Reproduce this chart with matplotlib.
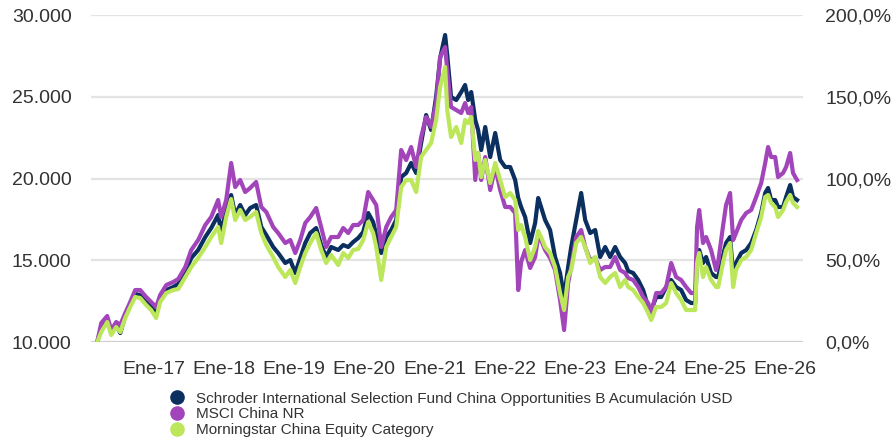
import matplotlib.pyplot as plt
import matplotlib.dates as mdates
from matplotlib.lines import Line2D
from matplotlib.ticker import FixedLocator, FuncFormatter
import pandas as pd

plt.rcParams["font.family"] = ["Liberation Sans", "DejaVu Sans"]

# growth of 10.000
dates = [
    "2016-03-10", "2016-03-31", "2016-05-01", "2016-05-22", "2016-06-17", "2016-07-08",
    "2016-08-03", "2016-08-29", "2016-09-24", "2016-10-20", "2016-11-20", "2016-12-16",
    "2017-01-11", "2017-02-01", "2017-03-05", "2017-04-10", "2017-05-06", "2017-06-12",
    "2017-07-13", "2017-08-18", "2017-09-24", "2017-10-25", "2017-11-30", "2017-12-16",
    "2018-01-11", "2018-02-06", "2018-02-27", "2018-03-25", "2018-04-20", "2018-05-16",
    "2018-06-16", "2018-07-13", "2018-08-08", "2018-09-13", "2018-10-09", "2018-11-15",
    "2018-12-11", "2019-01-06", "2019-02-01", "2019-02-27", "2019-03-25", "2019-04-25",
    "2019-05-21", "2019-06-16", "2019-07-12", "2019-08-18", "2019-09-13", "2019-10-09",
    "2019-11-04", "2019-11-30", "2019-12-26", "2020-01-21", "2020-02-16", "2020-03-03",
    "2020-03-29", "2020-04-24", "2020-05-20", "2020-06-15", "2020-07-11", "2020-08-06",
    "2020-09-01", "2020-09-27", "2020-10-23", "2020-11-18", "2020-12-14", "2021-01-09",
    "2021-01-30", "2021-02-25", "2021-03-08", "2021-03-28", "2021-04-24", "2021-05-20",
    "2021-06-09", "2021-06-25", "2021-07-11", "2021-08-01", "2021-08-16", "2021-09-01",
    "2021-09-22", "2021-10-18", "2021-11-13", "2021-12-09", "2022-01-04", "2022-01-30",
    "2022-02-25", "2022-03-13", "2022-03-28", "2022-04-18", "2022-05-14", "2022-06-09",
    "2022-06-25", "2022-07-10", "2022-07-31", "2022-08-26", "2022-09-21", "2022-10-17",
    "2022-11-07", "2022-11-28", "2022-12-14", "2023-01-09", "2023-02-04", "2023-02-25",
    "2023-03-23", "2023-04-18", "2023-05-14", "2023-06-09", "2023-07-05", "2023-07-31",
    "2023-08-26", "2023-09-21", "2023-10-07", "2023-11-02", "2023-11-28", "2023-12-24",
    "2024-01-19", "2024-02-04", "2024-03-01", "2024-03-27", "2024-04-22", "2024-05-18",
    "2024-06-13", "2024-07-09", "2024-08-04", "2024-08-30", "2024-09-20", "2024-09-30",
    "2024-10-11", "2024-10-31", "2024-11-16", "2024-12-12", "2025-01-07", "2025-01-18",
    "2025-02-13", "2025-02-28", "2025-03-21", "2025-04-06", "2025-04-21", "2025-05-18",
    "2025-06-13", "2025-07-09", "2025-08-04", "2025-08-30", "2025-09-20", "2025-10-05",
    "2025-10-21", "2025-11-11", "2025-11-26", "2025-12-22", "2026-01-07", "2026-01-28",
    "2026-02-12", "2026-03-05",
]

fund = [
    10000, 10856, 11407, 10550, 11040, 10550, 11590, 12263, 12936, 12875, 12446, 12141,
    11713, 12630, 13180, 13364, 13547, 14281, 15137, 15627, 16422, 16972, 17767, 16728,
    18073, 18991, 17767, 18379, 17767, 18195, 18379, 17033, 16544, 15810, 15443, 14832,
    15015, 14220, 15137, 16055, 16666, 16972, 15933, 15199, 15810, 15627, 15933, 15810,
    16116, 16360, 16728, 17890, 17339, 16544, 15443, 16422, 16850, 17462, 20091, 20336,
    20948, 20336, 22171, 23883, 22966, 24984, 27369, 28776, 27553, 24984, 24801, 25290,
    25718, 24801, 25290, 23578, 22966, 21743, 23149, 21315, 22782, 21131, 20703, 20703,
    19908, 18807, 18257, 17645, 16055, 17278, 18807, 18257, 17462, 16850, 15199, 14220,
    12752, 14587, 15810, 17462, 19113, 17462, 16666, 16850, 15199, 15810, 15199, 15810,
    15199, 14832, 14342, 14220, 13792, 13180, 12141, 11957, 12752, 12752, 13364, 13792,
    13364, 13180, 12569, 12385, 12385, 15199, 15627, 14832, 15199, 14220, 13975, 13975,
    15321, 16055, 16422, 14098, 14832, 15443, 15627, 16055, 16850, 17890, 19113, 19419,
    18685, 18685, 18257, 18257, 18868, 19602, 18868, 18685,
]

index = [
    10000, 11162, 11590, 10734, 11223, 11040, 11774, 12446, 13180, 13180, 12752, 12446,
    12141, 12875, 13486, 13670, 13853, 14587, 15627, 16238, 17156, 17645, 18685, 17645,
    18685, 20948, 19480, 19908, 19174, 19419, 19786, 18257, 17951, 17033, 16666, 16055,
    16238, 15443, 16238, 17278, 17645, 18195, 17033, 15810, 16422, 16422, 16972, 16666,
    17156, 17156, 17462, 19174, 18685, 18379, 15810, 17033, 17645, 18073, 21743, 21131,
    21926, 20703, 22538, 23761, 23149, 24617, 27431, 28042, 26636, 24373, 24189, 24006,
    24617, 24006, 24373, 19908, 21559, 19908, 21315, 19296, 20703, 19296, 18257, 18257,
    17890, 13180, 14893, 15627, 14526, 15199, 16422, 16238, 15627, 15137, 14404, 12569,
    10734, 13608, 14587, 16422, 16850, 15810, 15015, 15137, 14404, 14587, 14587, 15199,
    14404, 14220, 13914, 13792, 13364, 12752, 12385, 11774, 12997, 12997, 13364, 14832,
    13975, 13792, 13364, 12997, 12997, 17033, 18073, 16055, 16422, 15627, 14404, 14893,
    17156, 18379, 19113, 16238, 16666, 17462, 17890, 18073, 18868, 19724, 20948, 21926,
    21315, 21315, 20091, 20336, 20703, 21559, 20336, 19908,
]

category = [
    10000, 10612, 11223, 10428, 10917, 10612, 11468, 12141, 12752, 12691, 12263, 11957,
    11468, 12446, 12997, 13180, 13241, 13975, 14587, 15137, 15810, 16422, 17033, 16055,
    17645, 18746, 17462, 18073, 17462, 17645, 17951, 16666, 15933, 15199, 14587, 13975,
    14404, 13608, 14587, 15443, 16055, 16666, 15627, 14832, 15321, 14709, 15443, 15137,
    15627, 15688, 16238, 17339, 16666, 15810, 13792, 15810, 16422, 17033, 19480, 19908,
    19908, 19174, 21315, 21743, 22171, 23578, 25596, 26819, 24189, 22538, 23149, 22171,
    23578, 23394, 23761, 21131, 21559, 20091, 21131, 19724, 20948, 19908, 18868, 19113,
    18685, 16850, 17156, 16422, 15015, 15810, 16789, 16422, 15810, 15443, 14587, 12997,
    11957, 13975, 14404, 16055, 16422, 15810, 14832, 15199, 13975, 13608, 13975, 14220,
    13364, 13792, 13364, 13180, 12752, 12385, 11774, 11346, 12141, 12141, 12385, 13608,
    12997, 12569, 11957, 11957, 11957, 14832, 15443, 13975, 14587, 13792, 13364, 13364,
    14893, 15627, 16055, 13364, 14404, 15015, 15199, 15627, 16666, 17645, 18868, 18991,
    18501, 18257, 17645, 18073, 18562, 18991, 18501, 18257,
]

names = [
    "Schroder International Selection Fund China Opportunities B Acumulación USD",
    "MSCI China NR",
    "Morningstar China Equity Category",
]
colors = ["#0b2f5f", "#a245bb", "#bde75b"]

year_ticks = ["2017-01-01", "2018-01-01", "2019-01-01", "2020-01-01", "2021-01-01",
              "2022-01-01", "2023-01-01", "2024-01-01", "2025-01-01", "2026-01-01"]
year_labels = ["Ene-17", "Ene-18", "Ene-19", "Ene-20", "Ene-21",
               "Ene-22", "Ene-23", "Ene-24", "Ene-25", "Ene-26"]
left_ticks = [10000, 15000, 20000, 25000, 30000]
right_ticks = [0, 50, 100, 150, 200]

t = pd.to_datetime(dates)

fig = plt.figure(figsize=(8.93, 4.44), dpi=100)
ax = fig.add_axes([0.102, 0.2297, 0.797, 0.7365])

for yv in left_ticks:
    ax.axhline(yv, color="#cfcfcf" if yv == 10000 else "#e3e3e3", lw=1.6, zorder=0)

for series, c in zip([fund, index, category], colors):
    ax.plot(t, series, color=c, lw=3.0, solid_joinstyle="round", zorder=2)

ax.set_xlim(pd.Timestamp("2016-02-07"), pd.Timestamp("2026-04-04"))
ax.set_ylim(10000, 30000)
ax.set_xticks(pd.to_datetime(year_ticks))
ax.set_xticklabels(year_labels)
ax.set_yticks(left_ticks)
ax.yaxis.set_major_formatter(FuncFormatter(lambda v, p: f"{int(v):,}".replace(",", ".")))
ax.tick_params(axis="both", length=0, labelsize=14, colors="#333333")
ax.tick_params(axis="x", pad=14)
ax.tick_params(axis="y", pad=14)
for s in ax.spines.values():
    s.set_visible(False)

ax2 = ax.twinx()
ax2.set_ylim(0, 200)
ax2.set_yticks(right_ticks)
ax2.yaxis.set_major_formatter(FuncFormatter(lambda v, p: f"{v:.1f}%".replace(".", ",")))
ax2.tick_params(axis="y", length=0, labelsize=14, colors="#333333", pad=16)
for s in ax2.spines.values():
    s.set_visible(False)

handles = [Line2D([], [], ls="none", marker="o", markersize=9.5, color=c) for c in colors]
fig.legend(handles, names, loc="upper left", bbox_to_anchor=(0.19, 0.118),
           frameon=False, fontsize=11, labelspacing=0.12, handletextpad=0.75,
           handlelength=1.0, borderaxespad=0, borderpad=0, labelcolor="#333333")

plt.savefig("out.png", dpi=100)
